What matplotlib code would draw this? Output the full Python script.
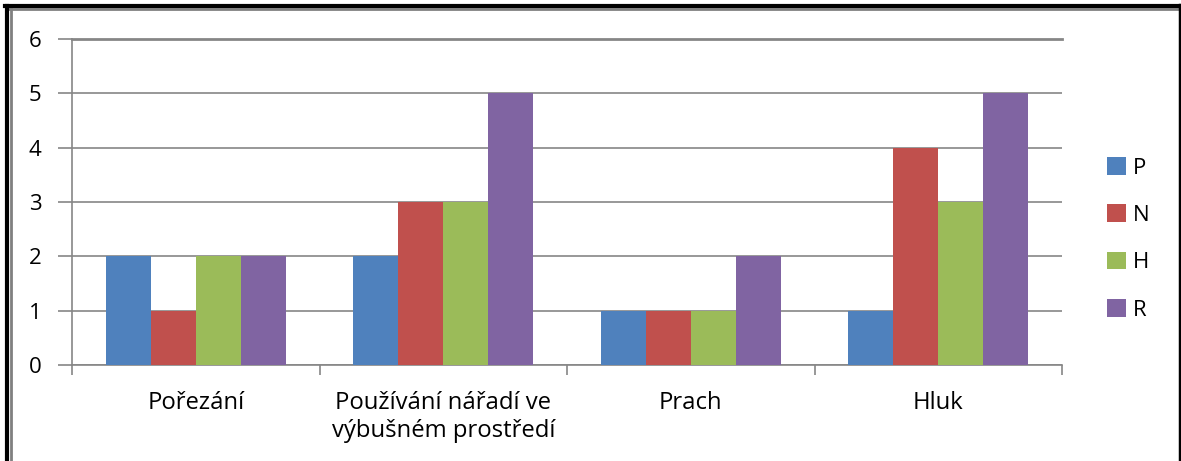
import numpy as np
import matplotlib
matplotlib.use("Agg")
import matplotlib.pyplot as plt
from matplotlib.lines import Line2D

categories = ["Pořezání", "Používání nářadí ve\nvýbušném prostředí", "Prach", "Hluk"]
series = ["P", "N", "H", "R"]
p_vals = [2, 2, 1, 1]
n_vals = [1, 3, 1, 4]
h_vals = [2, 3, 1, 3]
r_vals = [2, 5, 2, 5]
colors = ["#4F81BD", "#C0504D", "#9BBB59", "#8064A2"]

plt.rcParams["font.family"] = ["Open Sans", "DejaVu Sans"]
fs = 16

W, H = 1181, 461
fig = plt.figure(figsize=(W / 100, H / 100), dpi=100)
ax = fig.add_axes([72 / W, 1 - 365 / H, 990 / W, 326 / H])

x = np.arange(len(categories))
bw = 1 / 5.5
for k, (name, vals) in enumerate(zip(series, [p_vals, n_vals, h_vals, r_vals])):
    ax.bar(x + (k - 1.5) * bw, vals, width=bw, color=colors[k], label=name, zorder=3)

ax.set_xlim(-0.5, len(categories) - 0.5)
ax.set_ylim(0, 6)
ax.set_yticks(range(7))
ax.yaxis.grid(True, color="#868686", linewidth=1.2, zorder=0)
ax.set_axisbelow(True)

for s in ["top", "right"]:
    ax.spines[s].set_visible(False)
for s in ["left", "bottom"]:
    ax.spines[s].set_color("#868686")
    ax.spines[s].set_linewidth(1.2)

ax.set_xticks(np.arange(len(categories) + 1) - 0.5, minor=False)
ax.set_xticklabels([])
ax.tick_params(axis="x", which="major", length=7, color="#868686", width=1.2)
ax.set_xticks(x, minor=True)
ax.set_xticklabels(categories, minor=True, fontsize=17.2, linespacing=1.2)
ax.tick_params(axis="x", which="minor", length=0, pad=19)
ax.tick_params(axis="y", length=10, color="#868686", width=1.2, labelsize=fs, pad=12)

# top gridline drawn a little heavier
ax.axhline(6, color="#868686", linewidth=2, zorder=1, clip_on=False)

leg = fig.legend(loc="upper left", bbox_to_anchor=(1087 / W, 1 - 137 / H),
                 frameon=False, fontsize=fs, handlelength=0.85, handleheight=0.85,
                 handletextpad=0.3, labelspacing=1.16)

# outer chart frame
def px_line(xs, ys, color, lw):
    fig.add_artist(Line2D([v / W for v in xs], [1 - v / H for v in ys],
                          color=color, linewidth=lw, transform=fig.transFigure))

px_line([10.5, 10.5], [9, 470], "#808080", 2)
px_line([8, 1178], [9, 9], "#808080", 2)
px_line([6.5, 6.5], [6.5, 470], "black", 3)
px_line([5, 1180], [6.5, 6.5], "black", 3)
px_line([1179.5, 1179.5], [5, 470], "black", 2.5)

fig.savefig("out.png", dpi=100)
